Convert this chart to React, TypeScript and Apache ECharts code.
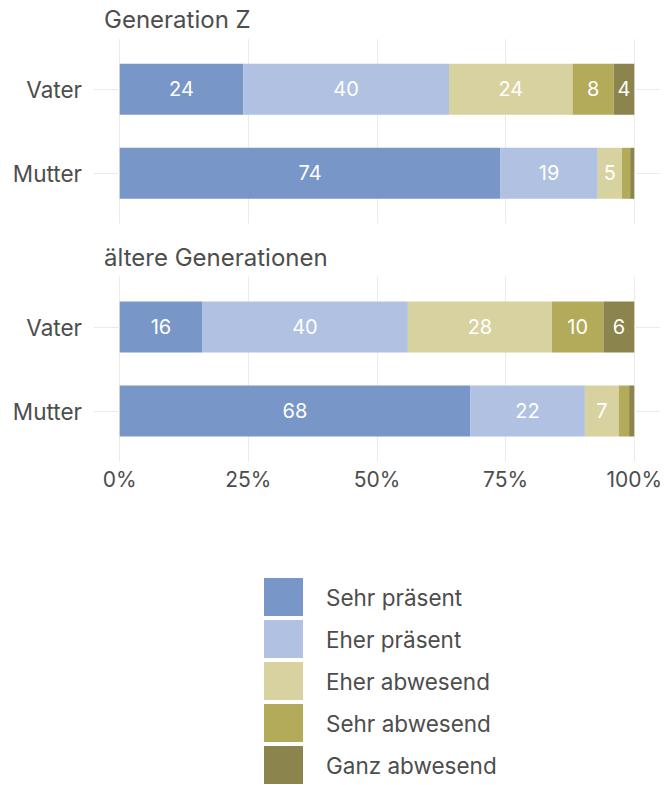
import React, { useEffect, useRef } from "react";
import * as echarts from "echarts";

const categories = ["Vater", "Mutter"];
const levels = ["Sehr präsent", "Eher präsent", "Eher abwesend", "Sehr abwesend", "Ganz abwesend"];
const colors = ["#7896c8", "#b0c1e1", "#d7d29f", "#b3aa5a", "#8b844c"];

const genZVater = [24, 40, 24, 8, 4];
const genZMutter = [74, 18.9, 4.7, 1.6, 0.8];
const oldVater = [16, 40, 28, 10, 6];
const oldMutter = [68.1, 22.3, 6.6, 2.0, 1.0];

const tickValues = [0, 25, 50, 75, 100];
const panelTitles = ["Generation Z", "ältere Generationen"];

const FONT = "Inter";
const TEXT = "#4d4d4d";
const GRIDC = "#ebebeb";

export default function App() {
  const ref = useRef<HTMLDivElement>(null);
  useEffect(() => {
    if (!ref.current) return;
    const chart = echarts.init(ref.current, undefined, { renderer: "svg" });

    const panels = [
      { vater: genZVater, mutter: genZMutter, bgTop: 39, barTop: 47.3, stack: "z" },
      { vater: oldVater, mutter: oldMutter, bgTop: 276.7, barTop: 285, stack: "o" },
    ];

    const grids: any[] = [];
    const xAxes: any[] = [];
    const yAxes: any[] = [];
    const series: any[] = [];

    panels.forEach((p, pi) => {
      const bgIdx = pi * 2;
      const barIdx = pi * 2 + 1;
      grids.push({ left: 94, right: 6, top: p.bgTop, height: 184.7 });
      grids.push({ left: 94, right: 6, top: p.barTop, height: 168 });
      xAxes.push({
        gridIndex: bgIdx,
        type: "value",
        min: -5,
        max: 105,
        axisLine: { show: false },
        axisTick: { show: false, customValues: tickValues },
        splitLine: { show: true, lineStyle: { color: GRIDC, width: 1 } },
        axisLabel: {
          show: pi === 1,
          customValues: tickValues,
          formatter: "{value}%",
          fontFamily: FONT,
          fontSize: 21,
          color: TEXT,
          margin: 8,
        },
      });
      xAxes.push({ gridIndex: barIdx, type: "value", min: -5, max: 105, show: false });
      yAxes.push({ gridIndex: bgIdx, type: "value", show: false, splitLine: { show: false } });
      yAxes.push({
        gridIndex: barIdx,
        type: "category",
        data: categories,
        inverse: true,
        axisLine: { show: false },
        axisTick: { show: false },
        splitLine: { show: false },
        axisLabel: { fontFamily: FONT, fontSize: 22.5, color: TEXT, margin: 12 },
      });

      levels.forEach((lv, li) => {
        const s: any = {
          type: "bar",
          name: lv,
          stack: p.stack,
          xAxisIndex: barIdx,
          yAxisIndex: barIdx,
          barWidth: 51,
          data: [p.vater[li], p.mutter[li]],
          itemStyle: { color: colors[li] },
          label: {
            show: true,
            position: "inside",
            color: "#ffffff",
            fontFamily: FONT,
            fontSize: 20,
            formatter: (d: any) => (d.value >= 3 ? String(Math.round(d.value)) : ""),
          },
        };
        if (li === 0) {
          const segs: any[] = [];
          categories.forEach((c) => {
            segs.push([{ coord: [-5, c] }, { coord: [0, c] }]);
            segs.push([{ coord: [100, c] }, { coord: [105, c] }]);
          });
          s.markLine = {
            silent: true,
            symbol: ["none", "none"],
            label: { show: false },
            lineStyle: { color: GRIDC, width: 1, type: "solid" },
            data: segs,
          };
        }
        series.push(s);
      });
    });

    chart.setOption({
      animation: false,
      grid: grids,
      xAxis: xAxes,
      yAxis: yAxes,
      series,
      legend: {
        data: levels,
        orient: "vertical",
        left: 264,
        top: 578,
        padding: 0,
        itemWidth: 39,
        itemHeight: 38,
        itemGap: 4,
        icon: "rect",
        selectedMode: false,
        textStyle: { fontFamily: FONT, fontSize: 22.5, color: TEXT, padding: [0, 0, 0, 18] },
      },
      graphic: [
        {
          type: "text",
          x: 104,
          y: 19,
          style: { text: panelTitles[0], fontFamily: FONT, fontSize: 24, fill: TEXT, verticalAlign: "middle" },
        },
        {
          type: "text",
          x: 104,
          y: 257,
          style: { text: panelTitles[1], fontFamily: FONT, fontSize: 24, fill: TEXT, verticalAlign: "middle" },
        },
      ],
    });
    return () => chart.dispose();
  }, []);
  return <div ref={ref} style={{ width: 666, height: 785, position: "absolute", left: 0, top: 0 }} />;
}
